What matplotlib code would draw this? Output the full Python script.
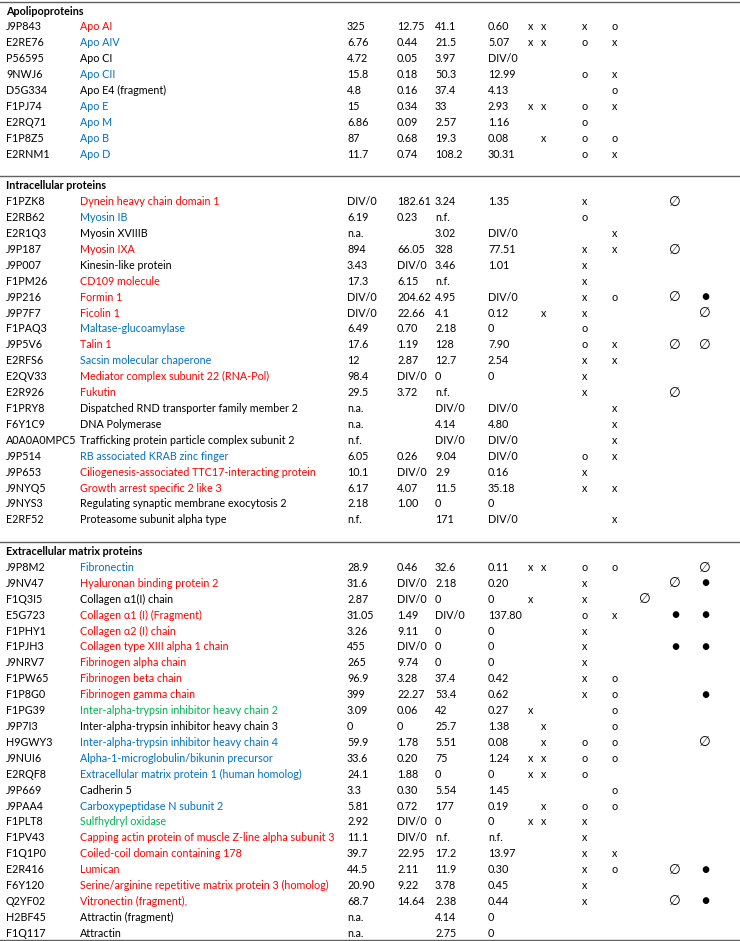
import matplotlib
matplotlib.use('Agg')
import matplotlib.pyplot as plt

RED = '#ff0000'
BLUE = '#0070c0'
GREEN = '#00b050'
BLACK = '#000000'

sections = ['Apolipoproteins', 'Intracellular proteins', 'Extracellular matrix proteins']

# per-row data: section index, id, name, colour, four values, marks (columns a b _ c d e f g, '.' = empty)
sec = [0] * 9 + [1] * 21 + [2] * 24

ids = ['J9P843', 'E2RE76', 'P56595', '9NWJ6', 'D5G334', 'F1PJ74', 'E2RQ71', 'F1P8Z5', 'E2RNM1',
       'F1PZK8', 'E2RB62', 'E2R1Q3', 'J9P187', 'J9P007', 'F1PM26', 'J9P216', 'J9P7F7', 'F1PAQ3',
       'J9P5V6', 'E2RFS6', 'E2QV33', 'E2R926', 'F1PRY8', 'F6Y1C9', 'A0A0A0MPC5', 'J9P514',
       'J9P653', 'J9NYQ5', 'J9NYS3', 'E2RF52',
       'J9P8M2', 'J9NV47', 'F1Q3I5', 'E5G723', 'F1PHY1', 'F1PJH3', 'J9NRV7', 'F1PW65', 'F1P8G0',
       'F1PG39', 'J9P7I3', 'H9GWY3', 'J9NUI6', 'E2RQF8', 'J9P669', 'J9PAA4', 'F1PLT8', 'F1PV43',
       'F1Q1P0', 'E2R416', 'F6Y120', 'Q2YF02', 'H2BF45', 'F1Q117']

names = ['Apo AI', 'Apo AIV', 'Apo CI', 'Apo CII', 'Apo E4 (fragment)', 'Apo E', 'Apo M', 'Apo B', 'Apo D',
         'Dynein heavy chain domain 1', 'Myosin IB', 'Myosin XVIIIB', 'Myosin IXA', 'Kinesin-like protein',
         'CD109 molecule', 'Formin 1', 'Ficolin 1', 'Maltase-glucoamylase', 'Talin 1',
         'Sacsin molecular chaperone', 'Mediator complex subunit 22 (RNA-Pol)', 'Fukutin',
         'Dispatched RND transporter family member 2', 'DNA Polymerase',
         'Trafficking protein particle complex subunit 2', 'RB associated KRAB zinc finger',
         'Ciliogenesis-associated TTC17-interacting protein', 'Growth arrest specific 2 like 3',
         'Regulating synaptic membrane exocytosis 2', 'Proteasome subunit alpha type',
         'Fibronectin', 'Hyaluronan binding protein 2', 'Collagen α1(I) chain', 'Collagen α1 (I) (Fragment)',
         'Collagen α2 (I) chain', 'Collagen type XIII alpha 1 chain', 'Fibrinogen alpha chain',
         'Fibrinogen beta chain', 'Fibrinogen gamma chain', 'Inter-alpha-trypsin inhibitor heavy chain 2',
         'Inter-alpha-trypsin inhibitor heavy chain 3', 'Inter-alpha-trypsin inhibitor heavy chain 4',
         'Alpha-1-microglobulin/bikunin precursor', 'Extracellular matrix protein 1 (human homolog)',
         'Cadherin 5', 'Carboxypeptidase N subunit 2', 'Sulfhydryl oxidase',
         'Capping actin protein of muscle Z-line alpha subunit 3', 'Coiled-coil domain containing 178',
         'Lumican', 'Serine/arginine repetitive matrix protein 3 (homolog)', 'Vitronectin (fragment),',
         'Attractin (fragment)', 'Attractin']

colors = [RED, BLUE, BLACK, BLUE, BLACK, BLUE, BLUE, BLUE, BLUE,
          RED, BLUE, BLACK, RED, BLACK, RED, RED, RED, BLUE, RED, BLUE, RED, RED,
          BLACK, BLACK, BLACK, BLUE, RED, RED, BLACK, BLACK,
          BLUE, RED, BLACK, RED, RED, RED, RED, RED, RED, GREEN, BLACK, BLUE,
          BLUE, BLUE, BLACK, BLUE, GREEN, RED, RED, RED, RED, RED, BLACK, BLACK]

val1 = ['325', '6.76', '4.72', '15.8', '4.8', '15', '6.86', '87', '11.7',
        'DIV/0', '6.19', 'n.a.', '894', '3.43', '17.3', 'DIV/0', 'DIV/0', '6.49', '17.6', '12',
        '98.4', '29.5', 'n.a.', 'n.a.', 'n.f.', '6.05', '10.1', '6.17', '2.18', 'n.f.',
        '28.9', '31.6', '2.87', '31.05', '3.26', '455', '265', '96.9', '399', '3.09', '0', '59.9',
        '33.6', '24.1', '3.3', '5.81', '2.92', '11.1', '39.7', '44.5', '20.90', '68.7', 'n.a.', 'n.a.']
val2 = ['12.75', '0.44', '0.05', '0.18', '0.16', '0.34', '0.09', '0.68', '0.74',
        '182.61', '0.23', '', '66.05', 'DIV/0', '6.15', '204.62', '22.66', '0.70', '1.19', '2.87',
        'DIV/0', '3.72', '', '', '', '0.26', 'DIV/0', '4.07', '1.00', '',
        '0.46', 'DIV/0', 'DIV/0', '1.49', '9.11', 'DIV/0', '9.74', '3.28', '22.27', '0.06', '0', '1.78',
        '0.20', '1.88', '0.30', '0.72', 'DIV/0', 'DIV/0', '22.95', '2.11', '9.22', '14.64', '', '']
val3 = ['41.1', '21.5', '3.97', '50.3', '37.4', '33', '2.57', '19.3', '108.2',
        '3.24', 'n.f.', '3.02', '328', '3.46', 'n.f.', '4.95', '4.1', '2.18', '128', '12.7',
        '0', 'n.f.', 'DIV/0', '4.14', 'DIV/0', '9.04', '2.9', '11.5', '0', '171',
        '32.6', '2.18', '0', 'DIV/0', '0', '0', '0', '37.4', '53.4', '42', '25.7', '5.51',
        '75', '0', '5.54', '177', '0', 'n.f.', '17.2', '11.9', '3.78', '2.38', '4.14', '2.75']
val4 = ['0.60', '5.07', 'DIV/0', '12.99', '4.13', '2.93', '1.16', '0.08', '30.31',
        '1.35', '', 'DIV/0', '77.51', '1.01', '', 'DIV/0', '0.12', '0', '7.90', '2.54',
        '0', '', 'DIV/0', '4.80', 'DIV/0', 'DIV/0', '0.16', '35.18', '0', 'DIV/0',
        '0.11', '0.20', '0', '137.80', '0', '0', '0', '0.42', '0.62', '0.27', '1.38', '0.08',
        '1.24', '0', '1.45', '0.19', '0', 'n.f.', '13.97', '0.30', '0.45', '0.44', '0', '0']

marks = ['xx.xo..', 'xx.ox..', '.......', '...ox..', '....o..', 'xx.ox..', '...o...', '.x.oo..', '...ox..',
         '...x..∅', '...o...', '....x..', '...xx.∅', '...x...', '...x...', '...xo.∅●', '.x.x...∅',
         '...o...', '...ox.∅∅', '...xx..', '...x...', '...x..∅', '....x..', '....x..', '....x..',
         '...ox..', '...x...', '...xx..', '.......', '....x..',
         'xx.oo..∅', '...x..∅●', 'x..x.∅.', '...ox.●●', '...x...', '...x..●●', '...x...', '...xo..',
         '...xo..●', 'x...o..', '.x..o..', '.x.oo..∅', 'xx.oo..', 'xx.o...', '....o..', '.x.oo..',
         'xx.x...', '...x...', '...xx..', '...xo.∅●', '...x...', '...x..∅●', '.......', '.......']

# layout (pixels)
W, H = 740, 941
step = 15.9
y0 = 11
col_id, col_name = 6, 80
col_vals = [347, 397, 435, 488]
col_marks = [531, 544, None, 585, 615, 645, 675, 705]
fs = 7.75
fam = ['Lato', 'DejaVu Sans']

fig = plt.figure(figsize=(W / 100, H / 100), dpi=100)
ax = fig.add_axes([0, 0, 1, 1])
ax.set_xlim(0, W)
ax.set_ylim(H, 0)
ax.axis('off')

slot = 0
line_slots = [-0.57]
for s, title in enumerate(sections):
    y = y0 + slot * step
    ax.text(col_id, y, title, fontsize=fs, fontweight='bold', family=fam, va='center')
    slot += 1
    for i in range(len(ids)):
        if sec[i] != s:
            continue
        y = y0 + slot * step
        ax.text(col_id, y, ids[i], fontsize=fs, family=fam, va='center')
        ax.text(col_name, y, names[i], fontsize=fs, family=fam, va='center', color=colors[i])
        for cx, v in zip(col_vals, [val1[i], val2[i], val3[i], val4[i]]):
            if v:
                ax.text(cx, y, v, fontsize=fs, family=fam, va='center')
        m = (marks[i].replace('.', ' ') + '        ')[:8]
        for cx, c in zip(col_marks, m):
            if cx is None or c == ' ':
                continue
            size = fs if c in 'xo' else fs + 2
            ax.text(cx, y, c, fontsize=size, family=fam, va='center', ha='center')
        slot += 1
    if s < len(sections) - 1:
        line_slots.append(slot + 0.4)
        slot += 1
    else:
        line_slots.append(slot - 0.55)

for ls in line_slots:
    ax.axhline(y0 + ls * step, color='#606060', lw=1.0)

fig.savefig('out.png', dpi=100)
